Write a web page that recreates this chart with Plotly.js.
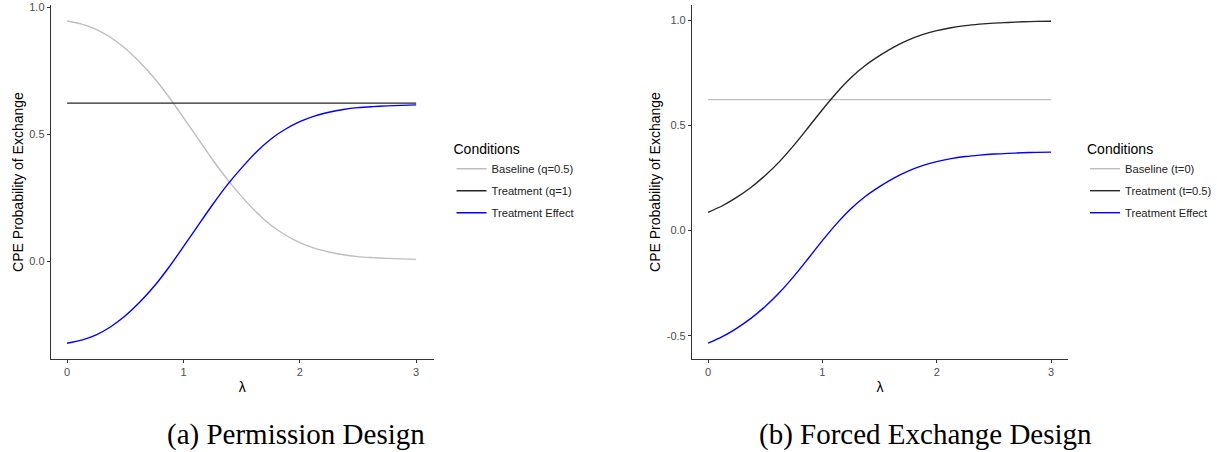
<!DOCTYPE html>
<html>
<head>
<meta charset="utf-8">
<script src="https://cdn.plot.ly/plotly-3.0.1.min.js"></script>
<style>
  html, body { margin: 0; padding: 0; background: #fff; }
  #chart { width: 1217px; height: 452px; }
</style>
</head>
<body>
<div id="chart"></div>
<script>
// ---- data ----
const lambda = [0, 0.125, 0.25, 0.375, 0.5, 0.625, 0.75, 0.875, 1.0, 1.125, 1.25, 1.375, 1.5,
                1.625, 1.75, 1.875, 2.0, 2.125, 2.25, 2.375, 2.5, 2.625, 2.75, 2.875, 3.0];

// (a) Permission Design
const permBaseline  = [0.945, 0.933, 0.912, 0.880, 0.837, 0.783, 0.720, 0.646, 0.565, 0.482, 0.400, 0.323, 0.255,
                       0.193, 0.142, 0.103, 0.073, 0.051, 0.036, 0.025, 0.018, 0.014, 0.011, 0.009, 0.007];
const permTreatment = [0.622, 0.622, 0.622, 0.622, 0.622, 0.622, 0.622, 0.622, 0.622, 0.622, 0.622, 0.622, 0.622,
                       0.622, 0.622, 0.622, 0.622, 0.622, 0.622, 0.622, 0.622, 0.622, 0.622, 0.622, 0.622];
const permEffect    = [-0.323, -0.311, -0.290, -0.258, -0.215, -0.161, -0.098, -0.024, 0.057, 0.140, 0.222, 0.299, 0.367,
                       0.429, 0.480, 0.519, 0.549, 0.571, 0.586, 0.597, 0.604, 0.608, 0.611, 0.613, 0.615];

// (b) Forced Exchange Design
const forcedBaseline  = [0.623, 0.623, 0.623, 0.623, 0.623, 0.623, 0.623, 0.623, 0.623, 0.623, 0.623, 0.623, 0.623,
                         0.623, 0.623, 0.623, 0.623, 0.623, 0.623, 0.623, 0.623, 0.623, 0.623, 0.623, 0.623];
const forcedTreatment = [0.087, 0.118, 0.158, 0.205, 0.262, 0.328, 0.405, 0.489, 0.575, 0.656, 0.727, 0.785, 0.832,
                         0.873, 0.906, 0.932, 0.951, 0.965, 0.975, 0.982, 0.987, 0.990, 0.993, 0.995, 0.996];
const forcedEffect    = [-0.536, -0.505, -0.465, -0.418, -0.361, -0.295, -0.218, -0.134, -0.048, 0.033, 0.104, 0.162, 0.209,
                         0.250, 0.283, 0.309, 0.328, 0.342, 0.352, 0.359, 0.364, 0.367, 0.370, 0.372, 0.373];

const namesA = ["Baseline (q=0.5)", "Treatment (q=1)", "Treatment Effect"];
const namesB = ["Baseline (t=0)", "Treatment (t=0.5)", "Treatment Effect"];
const xTickVals = [0, 1, 2, 3];
const yTickValsA = [0.0, 0.5, 1.0];
const yTickValsB = [-0.5, 0.0, 0.5, 1.0];
const captions = ["(a) Permission Design", "(b) Forced Exchange Design"];

// ---- styles ----
const colGray = "#bebebe", colBlack = "#262626", colBlue = "#0000ff";
const LW = 1.4;

function tr(y, name, color, xa, ya, leg, grp) {
  return {
    x: lambda, y: y, name: name, type: "scatter", mode: "lines",
    line: { color: color, width: LW, shape: "spline", smoothing: 0.8 },
    xaxis: xa, yaxis: ya, legend: leg, legendgroup: grp,
    hoverinfo: "x+y+name"
  };
}

const data = [
  tr(permBaseline,  namesA[0], colGray,  "x",  "y",  "legend",  "a1"),
  tr(permTreatment, namesA[1], colBlack, "x",  "y",  "legend",  "a2"),
  tr(permEffect,    namesA[2], colBlue,  "x",  "y",  "legend",  "a3"),
  tr(forcedBaseline,  namesB[0], colGray,  "x2", "y2", "legend2", "b1"),
  tr(forcedTreatment, namesB[1], colBlack, "x2", "y2", "legend2", "b2"),
  tr(forcedEffect,    namesB[2], colBlue,  "x2", "y2", "legend2", "b3")
];

const font = "Liberation Sans, Arial, Helvetica, sans-serif";
const tickFont = { family: font, size: 11, color: "#4d4d4d" };
const titleFont = { family: font, size: 14, color: "#000" };

function xaxis(domain, anchor) {
  return {
    domain: domain, anchor: anchor, range: [-0.14, 3.15],
    tickvals: xTickVals, ticktext: xTickVals.map(String),
    showline: true, linecolor: "#333", linewidth: 1.2,
    ticks: "outside", ticklen: 3, tickwidth: 1, tickcolor: "#333",
    showgrid: false, zeroline: false, tickfont: tickFont,
    title: { text: "λ", font: titleFont, standoff: 4 },
    automargin: false
  };
}
function yaxis(domain, anchor, range, tv) {
  return {
    domain: domain, anchor: anchor, range: range,
    tickvals: tv, ticktext: tv.map(v => v.toFixed(1)),
    showline: true, linecolor: "#333", linewidth: 1.2,
    ticks: "outside", ticklen: 3, tickwidth: 1, tickcolor: "#333",
    showgrid: false, zeroline: false, tickfont: tickFont,
    title: { text: "CPE Probability of Exchange", font: titleFont, standoff: 2 },
    automargin: false
  };
}

const W = 1217, H = 452;
const px = v => v / W, py = v => (H - v) / H;

function legend(x, y) {
  return {
    x: x, y: y, xanchor: "left", yanchor: "top",
    bgcolor: "rgba(0,0,0,0)", borderwidth: 0,
    font: { family: font, size: 11.2, color: "#222" },
    title: { text: "Conditions", font: { family: font, size: 14, color: "#000" } },
    tracegroupgap: 3, itemwidth: 30, traceorder: "grouped"
  };
}

const layout = {
  width: W, height: H,
  margin: { l: 0, r: 0, t: 0, b: 0 },
  paper_bgcolor: "#fff", plot_bgcolor: "#fff",
  showlegend: true,
  xaxis:  xaxis([px(51), px(435)], "y"),
  yaxis:  yaxis([py(359), py(5)], "x", [-0.385, 1.008], yTickValsA),
  xaxis2: xaxis([px(694.3), px(1071.7)], "y2"),
  yaxis2: yaxis([py(359), py(5)], "x2", [-0.611, 1.073], yTickValsB),
  legend:  legend(px(453), py(136)),
  legend2: legend(px(1089), py(136)),
  annotations: [
    { text: captions[0], xref: "paper", yref: "paper", x: px(296.5), y: py(434),
      xanchor: "center", yanchor: "middle", showarrow: false,
      font: { family: "Liberation Serif, Times New Roman, serif", size: 29, color: "#000" } },
    { text: captions[1], xref: "paper", yref: "paper", x: px(929), y: py(434),
      xanchor: "center", yanchor: "middle", showarrow: false,
      font: { family: "Liberation Serif, Times New Roman, serif", size: 29, color: "#000" } }
  ]
};

Plotly.newPlot("chart", data, layout, { displayModeBar: false });
</script>
</body>
</html>
